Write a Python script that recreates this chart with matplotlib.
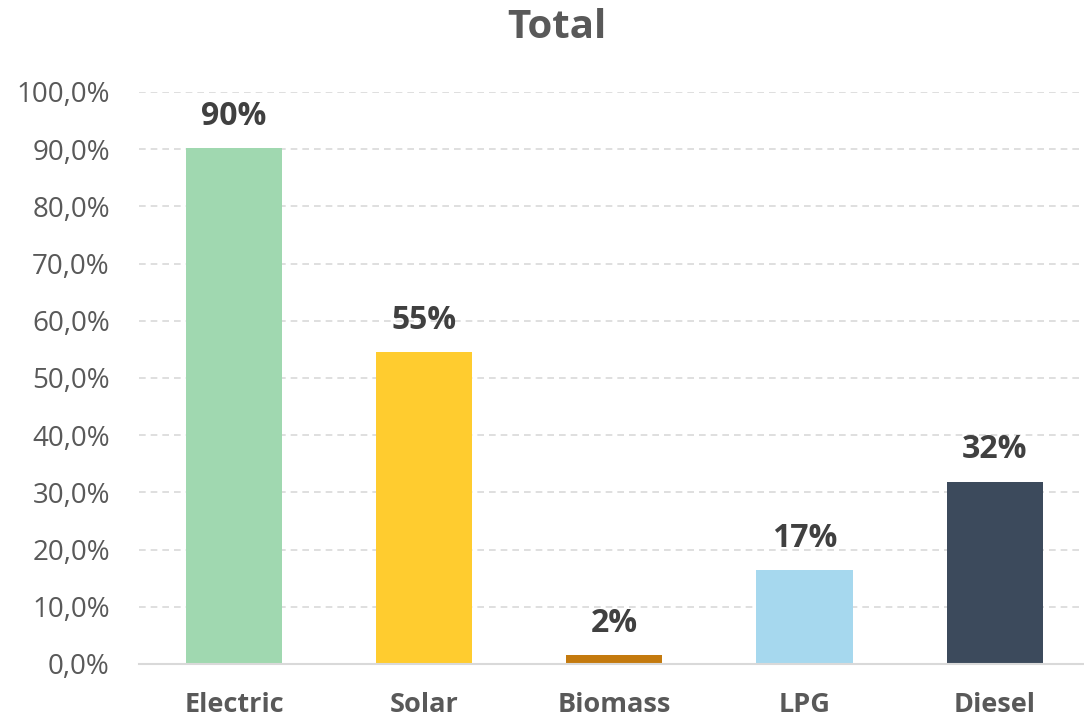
import matplotlib
matplotlib.use("Agg")
import matplotlib.pyplot as plt
from matplotlib.ticker import FuncFormatter

categories = ["Electric", "Solar", "Biomass", "LPG", "Diesel"]
values = [90.2, 54.5, 1.5, 16.4, 31.9]
labels = ["90%", "55%", "2%", "17%", "32%"]
colors = ["#A0D8B0", "#FFCC2F", "#C47A0E", "#A6D8EE", "#3C4A5C"]
yticks = [0, 10, 20, 30, 40, 50, 60, 70, 80, 90, 100]

plt.rcParams['font.family'] = ['Open Sans', 'DejaVu Sans']

fig = plt.figure(figsize=(10.84, 7.21), dpi=100)
ax = fig.add_axes([139/1084, 1-664/721, 1-139/1084, (664-92)/721])

x = list(range(len(categories)))
ax.bar(x, values, width=0.505, color=colors, zorder=3)
for xi, v, lab in zip(x, values, labels):
    ax.annotate(lab, (xi, v), xytext=(0, 11), textcoords="offset points",
                ha="center", va="bottom", fontsize=23, fontweight="bold", color="#404040")

ax.set_xlim(-0.5, 4.47)
ax.set_ylim(0, 100)
ax.set_yticks(yticks)
ax.yaxis.set_major_formatter(FuncFormatter(lambda v, p: f"{v:.1f}".replace(".", ",") + "%"))
ax.set_xticks(x)
ax.set_xticklabels(categories, fontsize=19.5, fontweight="bold", color="#595959")
ax.tick_params(axis="y", labelsize=20, labelcolor="#595959", length=0, pad=21)
ax.tick_params(axis="x", length=0, pad=20)
ax.grid(axis="y", color="#D9D9D9", linestyle=(0, (4, 3)), linewidth=1.2, zorder=0)
for s in ["top", "right", "left"]:
    ax.spines[s].set_visible(False)
ax.spines["bottom"].set_color("#D9D9D9")
ax.spines["bottom"].set_linewidth(1.5)
ax.spines["bottom"].set_zorder(4)

fig.text(557/1084, 1-27/721, "Total", ha="center", va="center", fontsize=29,
         fontweight="bold", color="#595959")

fig.savefig("out.png", dpi=100)
